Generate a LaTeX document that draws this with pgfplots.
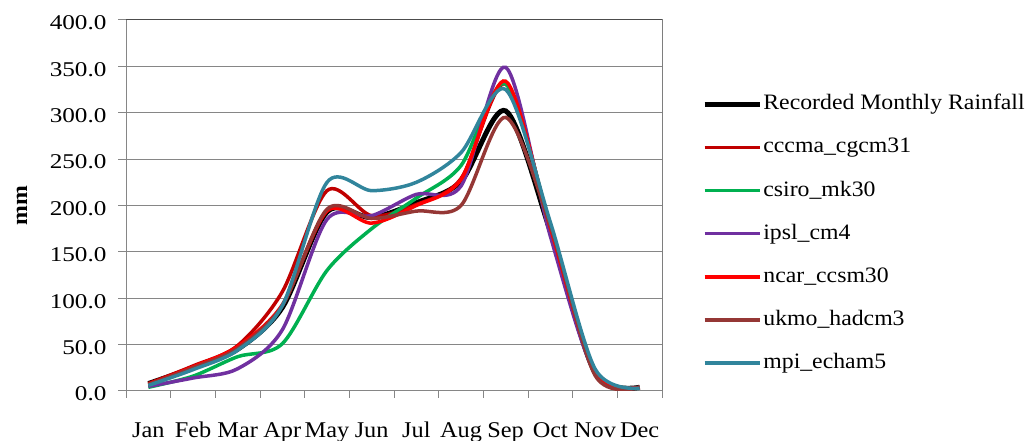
\documentclass[border=0pt]{standalone}
\usepackage{fontspec}
\setmainfont{Liberation Serif}[FakeStretch=1.08]
\newfontfamily\ytickfont{Liberation Serif}[FakeStretch=1.2]
\usepackage{pgfplots}
\pgfplotsset{compat=1.18}
\definecolor{cccma}{HTML}{C00000}
\definecolor{csiro}{HTML}{00B050}
\definecolor{ipsl}{HTML}{7030A0}
\definecolor{ncar}{HTML}{FF0000}
\definecolor{ukmo}{HTML}{953735}
\definecolor{mpi}{HTML}{31859C}
\definecolor{gridgray}{HTML}{868686}
\begin{document}
\begin{tikzpicture}
\useasboundingbox (0,0) rectangle (1031pt,441pt);
\begin{axis}[
  at={(126pt,50pt)}, anchor=south west,
  scale only axis, width=536pt, height=371pt,
  xmin=0.5, xmax=12.5, ymin=0, ymax=400,
  xtick={1,...,12},
  xticklabels={Jan,Feb,Mar,Apr,May,Jun,Jul,Aug,Sep,Oct,Nov,Dec},
  minor xtick={0.5,1.5,...,12.5},
  ytick={0,50,...,400},
  xtick pos=bottom, ytick pos=left,
  tick align=outside,
  major tick length=8pt, minor tick length=7pt,
  major x tick style={draw=none},
  tick style={gridgray, line width=1pt},
  ymajorgrids,
  grid style={gridgray, line width=1pt},
  axis line style={gridgray, line width=1pt},
  /pgf/number format/assume math mode=true,
  yticklabel={\pgfmathprintnumber[fixed,fixed zerofill,precision=1]{\tick}},
  xticklabel style={yshift=-19pt, text height=16pt, text depth=5pt, font=\fontsize{22.5}{24}\selectfont},
  yticklabel style={xshift=-8pt, yshift=-3pt, font=\fontsize{21}{24}\ytickfont},
  ylabel={\bfseries mm},
  ylabel style={at={(axis description cs:-0.194,0.499)}, anchor=center, font=\fontsize{22}{24}\selectfont},
  legend style={at={(axis description cs:1.0746,0.8046)}, anchor=north west,
    draw=none, fill=none, font=\fontsize{22}{24}\selectfont,
    inner sep=0pt, row sep=19.7pt,
    nodes={inner sep=1.2pt, text height=16pt, text depth=5pt}},
  legend cell align=left,
  legend image code/.code={\draw[#1] (0pt,0pt) -- (55pt,0pt);},
  every axis plot/.append style={line width=3.5pt, smooth, no markers},
]
\addplot[black, line width=5pt] coordinates {(1,8) (2,25) (3,45) (4,90) (5,193) (6,187) (7,203) (8,226) (9,302) (10,172) (11,20) (12,4)};
\addlegendentry{Recorded Monthly Rainfall}
\addplot[cccma] coordinates {(1,8) (2,27) (3,49) (4,107) (5,216) (6,189) (7,201) (8,229) (9,331) (10,177) (11,19) (12,4)};
\addlegendentry{cccma\_cgcm31}
\addplot[csiro] coordinates {(1,4) (2,16) (3,37) (4,51) (5,130) (6,175) (7,208) (8,243) (9,331) (10,178) (11,21) (12,4)};
\addlegendentry{csiro\_mk30}
\addplot[ipsl] coordinates {(1,5) (2,14) (3,24) (4,66) (5,185) (6,189) (7,212) (8,221) (9,349) (10,167) (11,19) (12,4)};
\addlegendentry{ipsl\_cm4}
\addplot[ncar] coordinates {(1,7) (2,26) (3,48) (4,93) (5,194) (6,181) (7,200) (8,228) (9,334) (10,176) (11,20) (12,4)};
\addlegendentry{ncar\_ccsm30}
\addplot[ukmo] coordinates {(1,7) (2,25) (3,46) (4,92) (5,196) (6,186) (7,194) (8,200) (9,295) (10,178) (11,17) (12,4)};
\addlegendentry{ukmo\_hadcm3}
\addplot[mpi] coordinates {(1,6) (2,23) (3,44) (4,92) (5,225) (6,216) (7,225) (8,257) (9,325) (10,182) (11,24) (12,3)};
\addlegendentry{mpi\_echam5}
\draw[black!70, line width=1pt] (rel axis cs:0,1) -- (rel axis cs:1,1) -- (rel axis cs:1,0);
\end{axis}
\end{tikzpicture}
\end{document}
